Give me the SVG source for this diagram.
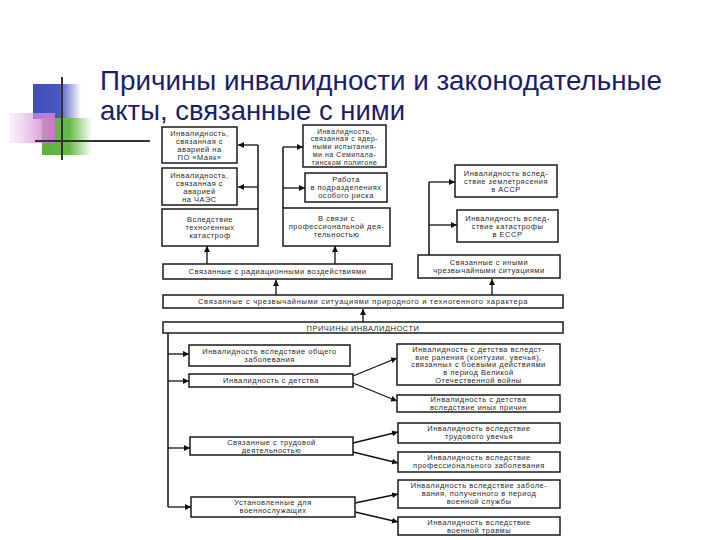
<svg xmlns="http://www.w3.org/2000/svg" width="720" height="540" viewBox="0 0 720 540">
<defs>
<linearGradient id="gBlue" x1="0" y1="0" x2="1" y2="0"><stop offset="0" stop-color="#3f4fb8"/><stop offset="0.55" stop-color="#4a58c0"/><stop offset="1" stop-color="#4a58c0" stop-opacity="0"/></linearGradient>
<linearGradient id="gPink" x1="0" y1="0" x2="1" y2="0"><stop offset="0" stop-color="#e8c8e8" stop-opacity="0.3"/><stop offset="1" stop-color="#d070d0"/></linearGradient>
<linearGradient id="gGreen" x1="0" y1="0" x2="1" y2="0"><stop offset="0" stop-color="#5cb040"/><stop offset="0.55" stop-color="#66bb48"/><stop offset="1" stop-color="#66bb48" stop-opacity="0"/></linearGradient>
<marker id="ah" viewBox="0 0 10 10" refX="10" refY="5" markerWidth="6" markerHeight="6" orient="auto" markerUnits="userSpaceOnUse"><path d="M0,0 L10,5 L0,10 z" fill="#111"/></marker>
<style>
.box{fill:#fff;stroke:#1a1a1a;stroke-width:1.5}
.t{font-family:"Liberation Sans",Arial,sans-serif;font-size:7.5px;fill:#2a2a2a;text-anchor:middle;letter-spacing:0.5px}
.s{font-size:7px}
.title{font-family:"Liberation Sans",Arial,sans-serif;font-size:28px;fill:#1c1c6e}
.c{fill:none;stroke:#111;stroke-width:1.5}
.ca{fill:none;stroke:#111;stroke-width:1.3;marker-end:url(#ah)}
</style>
</defs>
<rect width="720" height="540" fill="#fff"/>
<g id="decor">
<rect x="33" y="84" width="48" height="35" fill="url(#gBlue)"/>
<rect x="42" y="118" width="50" height="37" fill="url(#gGreen)"/>
<rect x="10" y="113" width="45" height="30" fill="url(#gPink)"/>
<line x1="62" y1="77" x2="62" y2="160" stroke="#333" stroke-width="2"/>
<line x1="35" y1="141" x2="150" y2="141" stroke="#333" stroke-width="2"/>
</g>
<g id="title">
<text class="title" x="100" y="90" textLength="562" lengthAdjust="spacingAndGlyphs">Причины инвалидности и законодательные</text>
<text class="title" x="100" y="120" textLength="305" lengthAdjust="spacingAndGlyphs">акты, связанные с ними</text>
</g>
<g id="connectors">
<polyline class="c" points="258,209 258,145"/>
<line class="ca" x1="258" y1="145" x2="238" y2="145"/>
<line class="ca" x1="258" y1="187" x2="238" y2="187"/>
<polyline class="c" points="283,208 283,147"/>
<line class="ca" x1="283" y1="147" x2="303" y2="147"/>
<line class="ca" x1="283" y1="188" x2="305" y2="188"/>
<polyline class="c" points="429,255 429,182"/>
<line class="ca" x1="429" y1="182" x2="455" y2="182"/>
<line class="ca" x1="429" y1="225" x2="457" y2="225"/>
<line class="ca" x1="207" y1="264" x2="207" y2="246"/>
<line class="ca" x1="335" y1="264" x2="335" y2="246"/>
<line class="ca" x1="276" y1="295" x2="276" y2="280"/>
<line class="ca" x1="492" y1="295" x2="492" y2="279"/>
<line class="ca" x1="363" y1="322" x2="363" y2="309"/>
<polyline class="c" points="168,333 168,507"/>
<line class="ca" x1="168" y1="354" x2="189" y2="354"/>
<line class="ca" x1="168" y1="381" x2="189" y2="381"/>
<line class="ca" x1="168" y1="448" x2="190" y2="448"/>
<line class="ca" x1="168" y1="507" x2="191" y2="507"/>
<line class="ca" x1="353" y1="376" x2="397" y2="358"/>
<line class="ca" x1="353" y1="383" x2="397" y2="401"/>
<line class="ca" x1="353" y1="443" x2="398" y2="432"/>
<line class="ca" x1="353" y1="452" x2="398" y2="463"/>
<line class="ca" x1="355" y1="503" x2="398" y2="494"/>
<line class="ca" x1="355" y1="512" x2="398" y2="522"/>
</g>
<g id="A1"><rect class="box" x="162" y="127" width="75" height="36"/><text class="t" x="199.5" y="136">Инвалидность,<tspan x="199.5" dy="8">связанная с</tspan><tspan x="199.5" dy="8">аварией на</tspan><tspan x="199.5" dy="8">ПО «Маяк»</tspan></text></g>
<g id="A2"><rect class="box" x="162" y="168" width="75" height="37"/><text class="t" x="199.5" y="177.5">Инвалидность,<tspan x="199.5" dy="8">связанная с</tspan><tspan x="199.5" dy="8">аварией</tspan><tspan x="199.5" dy="8">на ЧАЭС</tspan></text></g>
<g id="A3"><rect class="box" x="162" y="209" width="96" height="37"/><text class="t" x="210" y="222">Вследствие<tspan x="210" dy="8">техногенных</tspan><tspan x="210" dy="8">катастроф</tspan></text></g>
<g id="B1"><rect class="box" x="303" y="125" width="83" height="42"/><text class="t s" x="344.5" y="133.5">Инвалидность,<tspan x="344.5" dy="7.9">связанная с ядер-</tspan><tspan x="344.5" dy="7.9">ными испытания-</tspan><tspan x="344.5" dy="7.9">ми на Семипала-</tspan><tspan x="344.5" dy="7.9">тинском полигоне</tspan></text></g>
<g id="B2"><rect class="box" x="305" y="173" width="82" height="29"/><text class="t" x="346" y="182">Работа<tspan x="346" dy="8">в подразделениях</tspan><tspan x="346" dy="8">особого риска</tspan></text></g>
<g id="B3"><rect class="box" x="283" y="208" width="107" height="38"/><text class="t" x="336.5" y="221">В связи с<tspan x="336.5" dy="8">профессиональной дея-</tspan><tspan x="336.5" dy="8">тельностью</tspan></text></g>
<g id="C1"><rect class="box" x="455" y="165" width="102" height="32"/><text class="t" x="506" y="176">Инвалидность вслед-<tspan x="506" dy="8">ствие землетрясения</tspan><tspan x="506" dy="8">в АССР</tspan></text></g>
<g id="C2"><rect class="box" x="457" y="210" width="101" height="32"/><text class="t" x="507.5" y="221">Инвалидность вслед-<tspan x="507.5" dy="8">ствие катастрофы</tspan><tspan x="507.5" dy="8">в ЕССР</tspan></text></g>
<g id="C3"><rect class="box" x="418" y="255" width="142" height="23"/><text class="t" x="489" y="265">Связанные с иными<tspan x="489" dy="8">чрезвычайными ситуациями</tspan></text></g>
<g id="R"><rect class="box" x="163" y="264" width="229" height="15"/><text class="t" x="277.5" y="274">Связанные с радиационными воздействиями</text></g>
<g id="N"><rect class="box" x="163" y="295" width="400" height="13"/><text class="t" x="363" y="304" textLength="330">Связанные с чрезвычайными ситуациями природного и техногенного характера</text></g>
<g id="P"><rect class="box" x="163" y="322" width="400" height="11"/><text class="t" x="363" y="330.5">ПРИЧИНЫ ИНВАЛИДНОСТИ</text></g>
<g id="D1"><rect class="box" x="189" y="345" width="161" height="21"/><text class="t" x="269.5" y="354">Инвалидность вследствие общего<tspan x="269.5" dy="8">заболевания</tspan></text></g>
<g id="D2"><rect class="box" x="189" y="374" width="164" height="13"/><text class="t" x="271" y="383">Инвалидность с детства</text></g>
<g id="E1"><rect class="box" x="397" y="344" width="163" height="41"/><text class="t" x="478.5" y="352">Инвалидность с детства вследст-<tspan x="478.5" dy="7.7">вие ранения (контузии, увечья),</tspan><tspan x="478.5" dy="7.7">связанных с боевыми действиями</tspan><tspan x="478.5" dy="7.7">в период Великой</tspan><tspan x="478.5" dy="7.7">Отечественной войны</tspan></text></g>
<g id="E2"><rect class="box" x="397" y="395" width="163" height="17"/><text class="t" x="478.5" y="402">Инвалидность с детства<tspan x="478.5" dy="7.5">вследствие иных причин</tspan></text></g>
<g id="E3"><rect class="box" x="398" y="423" width="162" height="20"/><text class="t" x="479" y="431">Инвалидность вследствие<tspan x="479" dy="8">трудового увечья</tspan></text></g>
<g id="E4"><rect class="box" x="398" y="452" width="162" height="20"/><text class="t" x="479" y="460">Инвалидность вследствие<tspan x="479" dy="8">профессионального заболевания</tspan></text></g>
<g id="D3"><rect class="box" x="190" y="437" width="163" height="18"/><text class="t" x="271.5" y="445">Связанные с трудовой<tspan x="271.5" dy="8">деятельностью</tspan></text></g>
<g id="E5"><rect class="box" x="398" y="480" width="162" height="28"/><text class="t" x="479" y="488">Инвалидность вследствие заболе-<tspan x="479" dy="8">вания, полученного в период</tspan><tspan x="479" dy="8">военной службы</tspan></text></g>
<g id="E6"><rect class="box" x="398" y="517" width="162" height="18"/><text class="t" x="479" y="525">Инвалидность вследствие<tspan x="479" dy="8">военной травмы</tspan></text></g>
<g id="D4"><rect class="box" x="191" y="497" width="164" height="20"/><text class="t" x="273" y="505">Установленные для<tspan x="273" dy="8">военнослужащих</tspan></text></g>
</svg>
